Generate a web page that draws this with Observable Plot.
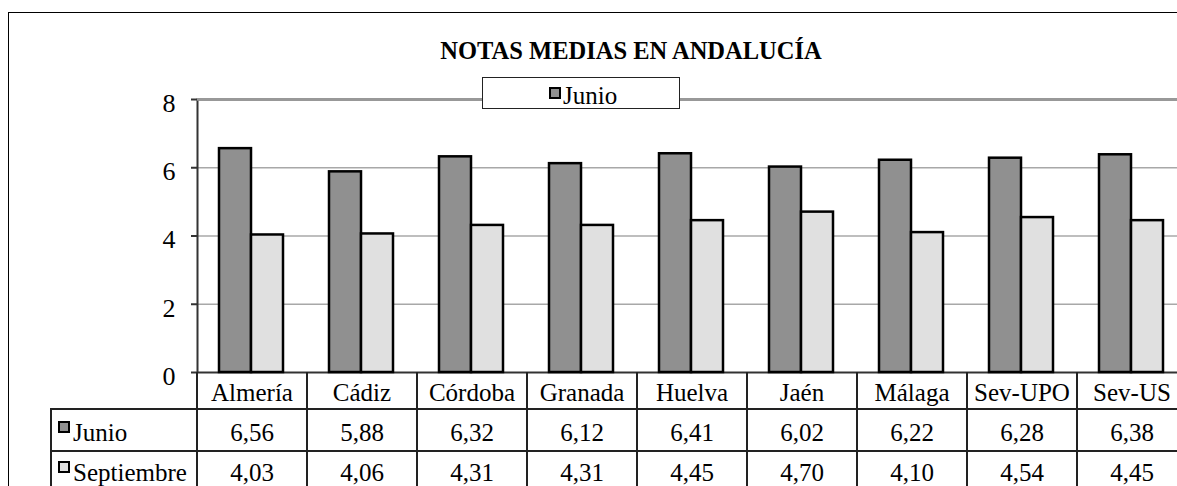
<!DOCTYPE html>
<html>
<head>
<meta charset="utf-8">
<script src="https://cdn.jsdelivr.net/npm/d3@7"></script>
<script src="https://cdn.jsdelivr.net/npm/@observablehq/plot@0.6"></script>
<style>
  html, body { margin: 0; padding: 0; background: #fff; overflow: hidden; }
  #wrap { position: relative; width: 1177px; height: 486px; overflow: hidden;
          font-family: "Liberation Serif", "Times New Roman", serif; color: #000; }
  #wrap > * { position: absolute; }
  .txt { font-family: "Liberation Serif", "Times New Roman", serif; font-size: 25px; line-height: 25px; white-space: nowrap; }
  .line { background: #222; }
  .sw { box-sizing: border-box; border: 2px solid #000; }
</style>
</head>
<body>
<div id="wrap"></div>
<script>
const title = "NOTAS MEDIAS EN ANDALUCÍA";
const categories = ["Almería", "Cádiz", "Córdoba", "Granada", "Huelva", "Jaén", "Málaga", "Sev-UPO", "Sev-US"];
const series = ["Junio", "Septiembre"];
const junio = [6.56, 5.88, 6.32, 6.12, 6.41, 6.02, 6.22, 6.28, 6.38];
const septiembre = [4.03, 4.06, 4.31, 4.31, 4.45, 4.70, 4.10, 4.54, 4.45];
const yTicks = [0, 2, 4, 6, 8];
const seriesColors = ["#909090", "#e0e0e0"];
const legendSeries = ["Junio"];

const values = {Junio: junio, Septiembre: septiembre};
const rows = categories.flatMap((c, i) => series.map(s => ({category: c, series: s, value: values[s][i]})));

const wrap = document.getElementById("wrap");

// outer chart-area border (left and top visible)
const outer = document.createElement("div");
Object.assign(outer.style, {left: "8px", top: "12px", width: "2000px", height: "2000px",
  borderLeft: "1.5px solid #000", borderTop: "1.5px solid #000"});
wrap.appendChild(outer);

const serif = "'Liberation Serif', 'Times New Roman', serif";
const chart = Plot.plot({
  width: 1197,
  height: 400,
  marginLeft: 197,
  marginRight: 10,
  marginTop: 99,
  marginBottom: 28,
  style: {fontFamily: serif, fontSize: "26px", color: "#000",
          background: "transparent", overflow: "visible", maxWidth: "none"},
  x: {domain: categories, padding: 0, axis: null},
  y: {domain: [0, 8], axis: null},
  color: {domain: series, range: seriesColors},
  marks: [
    Plot.gridY(yTicks.filter(t => t > 0 && t < 8), {stroke: "#a8a8a8", strokeOpacity: 1, strokeWidth: 1.5}),
    Plot.frame({stroke: "#333", strokeWidth: 2}),
    Plot.gridY([8], {stroke: "#999", strokeOpacity: 1, strokeWidth: 2.5}),
    Plot.barY(rows.filter(d => d.series === series[0]),
      {x: "category", y: "value", fill: "series", stroke: "#000", strokeWidth: 2.5, insetLeft: 22, insetRight: 56}),
    Plot.barY(rows.filter(d => d.series === series[1]),
      {x: "category", y: "value", fill: "series", stroke: "#000", strokeWidth: 2.5, insetLeft: 54, insetRight: 24}),
    Plot.axisY({ticks: yTicks, tickSize: 6, text: null, label: null, stroke: "#333", strokeWidth: 2}),
    Plot.axisY({ticks: yTicks, tickSize: 0, tickPadding: 22, dy: 4, label: null, fontSize: 26,
      fontFamily: serif, fill: "#000"})
  ]
});
chart.style.left = "0px";
chart.style.top = "0px";
chart.style.maxWidth = "none";
wrap.appendChild(chart);

const xs = chart.scale("x");
const ys = chart.scale("y");
const y0 = ys.apply(0);
const bw = xs.bandwidth;
const rightEnd = xs.apply(categories[categories.length - 1]) + bw;
const tableLeft = 51, headerH = 37, rowH = 42;

function addDiv(cls, style, text) {
  const d = document.createElement("div");
  if (cls) d.className = cls;
  Object.assign(d.style, style);
  if (text != null) d.textContent = text;
  wrap.appendChild(d);
  return d;
}

// table lines
const r1 = y0 + headerH, r2 = r1 + rowH, r3 = r2 + rowH;
const rowTop = [r1 + 11, r2 + 9];
addDiv("line", {left: (tableLeft - 1) + "px", top: r1 + "px", width: "2px", height: (r3 + 10 - r1) + "px"});
categories.forEach(c => {
  addDiv("line", {left: (xs.apply(c) - 1) + "px", top: y0 + "px", width: "2px", height: (r3 + 10 - y0) + "px"});
});
addDiv("line", {left: (rightEnd - 1) + "px", top: y0 + "px", width: "2px", height: (r3 + 10 - y0) + "px"});
[r1, r2].forEach(r => addDiv("line", {left: (tableLeft - 1) + "px", top: (r - 1) + "px", width: (rightEnd - tableLeft + 2) + "px", height: "2px"}));

// header labels and values
const fmt = v => v.toFixed(2).replace(".", ",");
categories.forEach((c, i) => {
  const l = xs.apply(c);
  addDiv("txt", {left: l + "px", width: bw + "px", textAlign: "center", top: (y0 + 8) + "px"}, c);
  series.forEach((s, k) => {
    addDiv("txt", {left: l + "px", width: bw + "px", textAlign: "center", top: rowTop[k] + "px"}, fmt(values[s][i]));
  });
});
// row labels
series.forEach((s, k) => {
  addDiv("sw", {left: "58px", top: (rowTop[k] + 1) + "px", width: "12px", height: "12px", background: seriesColors[k]});
  addDiv("txt", {left: "73px", top: rowTop[k] + "px"}, s);
});

// title
addDiv(null, {left: "631px", top: "39px", transform: "translateX(-50%)", fontWeight: "bold",
  fontSize: "24.5px", lineHeight: "24px", whiteSpace: "nowrap", fontFamily: serif}, title);

// legend
addDiv(null, {left: "482px", top: "77px", width: "198px", height: "32px", boxSizing: "border-box",
  border: "1.5px solid #222", background: "#fff"});
legendSeries.forEach((s, k) => {
  addDiv("sw", {left: "549px", top: "87px", width: "12px", height: "12px", background: seriesColors[series.indexOf(s)]});
  addDiv("txt", {left: "563px", top: "83px"}, s);
});
</script>
</body>
</html>
